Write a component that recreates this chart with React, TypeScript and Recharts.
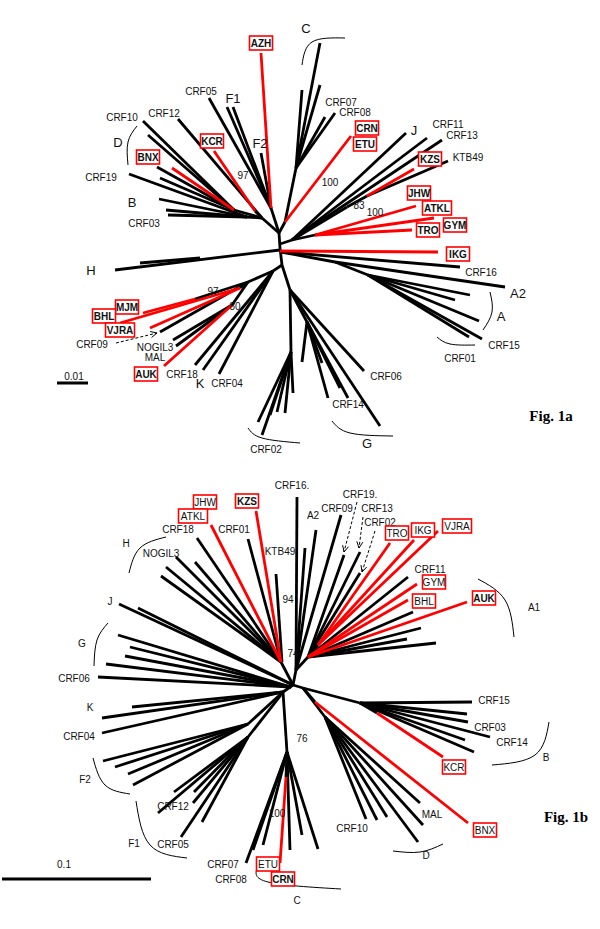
import { ScatterChart, Scatter, XAxis, YAxis } from 'recharts'

// Two unrooted trees drawn in one plane: branch = [x1, y1, x2, y2] in layout units
type Seg = [number, number, number, number]
type Pt = [number, number]
type Lbl = [string, number, number]

// ---------- Fig. 1a ----------
const black1a: Seg[] = [
  [279, 233, 280, 248], [280, 248, 282, 265], [279, 233, 262, 218], [279, 233, 271, 208],
  [279, 233, 285, 222], [285, 222, 296, 168], [280, 244, 292, 240], [280, 250, 115, 270],
  [140, 263, 200, 258], [281, 252, 460, 267], [281, 252, 335, 262],
  [335, 262, 505, 287], [335, 262, 368, 275], [368, 275, 470, 295], [368, 275, 455, 300],
  [368, 275, 479, 321], [368, 275, 469, 337], [368, 275, 482, 339],
  [282, 265, 273, 271], [273, 271, 248, 282], [248, 282, 195, 299], [248, 282, 240, 288],
  [248, 282, 160, 332], [248, 282, 232, 305], [232, 305, 173, 340], [232, 305, 176, 346],
  [273, 271, 195, 365], [273, 271, 203, 370], [273, 271, 219, 374],
  [282, 265, 290, 290], [290, 290, 364, 371], [290, 290, 380, 426], [290, 290, 307, 322],
  [307, 322, 302, 362], [307, 322, 322, 363], [307, 322, 328, 398], [307, 322, 340, 388],
  [307, 322, 348, 398], [290, 290, 291, 352], [291, 352, 258, 422], [291, 352, 262, 435],
  [291, 352, 270, 415], [291, 352, 277, 412], [291, 352, 285, 413], [291, 352, 293, 393],
  [262, 218, 234, 210], [234, 210, 143, 121], [234, 210, 148, 135], [234, 210, 157, 167],
  [234, 210, 160, 178], [262, 218, 178, 119], [262, 218, 255, 211], [262, 218, 247, 217],
  [247, 217, 129, 174], [247, 217, 159, 199], [247, 217, 166, 210], [247, 217, 168, 215],
  [271, 208, 209, 98], [271, 208, 227, 107], [271, 208, 233, 107], [271, 208, 261, 153],
  [296, 168, 320, 43], [296, 168, 320, 85], [296, 168, 302, 90], [296, 168, 325, 117],
  [296, 168, 335, 113],
  [292, 240, 406, 133], [292, 240, 427, 138], [292, 240, 442, 140], [292, 240, 347, 207],
  [347, 207, 367, 196], [367, 196, 448, 161], [292, 240, 315, 235],
]
const red1a: Seg[] = [
  [271, 208, 261, 53], [255, 211, 214, 151], [234, 210, 172, 168], [285, 222, 351, 136],
  [367, 196, 414, 169], [315, 235, 416, 206], [315, 235, 434, 218], [315, 235, 412, 230],
  [280, 251, 438, 252], [195, 299, 143, 313], [240, 288, 120, 323], [240, 288, 150, 328],
  [232, 305, 164, 366],
]
const arcs1a: Pt[][] = [
  [[302, 65], [312, 42], [345, 38]],
  [[137, 126], [128, 142], [128, 165]],
  [[490, 292], [492, 312], [483, 330]],
  [[437, 337], [450, 344], [475, 345]],
  [[332, 421], [350, 433], [393, 436]],
  [[248, 428], [262, 438], [300, 443]],
]
const arrows1a: Seg[] = [[116, 343, 157, 333]]
const scale1a: Seg = [57, 383, 88, 383]

const tips1a: Lbl[] = [
  ['CRF05', 201, 91], ['CRF12', 164, 113], ['CRF10', 122, 117], ['CRF19', 101, 177],
  ['CRF03', 144, 223], ['CRF07', 341, 102], ['CRF08', 355, 112], ['CRF11', 448, 124],
  ['CRF13', 462, 135], ['KTB49', 468, 157], ['CRF16', 481, 272], ['CRF15', 504, 345],
  ['CRF01', 460, 358], ['CRF06', 386, 376], ['CRF14', 348, 404], ['CRF02', 266, 449],
  ['CRF09', 92, 344], ['NOGIL3', 155, 347], ['MAL', 155, 357], ['CRF18', 182, 374],
  ['CRF04', 227, 383], ['0.01', 74, 376],
]
const clades1a: Lbl[] = [
  ['C', 306, 28], ['F1', 233, 98], ['F2', 260, 143], ['D', 118, 142], ['B', 132, 202],
  ['J', 414, 130], ['H', 91, 270], ['K', 200, 383], ['A2', 518, 293], ['A', 501, 316],
  ['G', 367, 443],
]
const boot1a: Lbl[] = [
  ['97', 243, 175], ['100', 330, 182], ['83', 359, 205], ['100', 375, 212],
  ['97', 213, 291], ['80', 235, 306],
]
const boxedBold1a: Lbl[] = [
  ['AZH', 261, 43], ['KCR', 212, 141], ['BNX', 148, 157], ['CRN', 367, 128],
  ['ETU', 365, 144], ['KZS', 430, 159], ['JHW', 419, 193], ['ATKL', 437, 208],
  ['GYM', 455, 225], ['TRO', 428, 230], ['IKG', 458, 254], ['MJM', 127, 307],
  ['BHL', 104, 316], ['VJRA', 120, 330], ['AUK', 146, 374],
]

// ---------- Fig. 1b ----------
const black1b: Seg[] = [
  [293, 685, 296, 670], [296, 670, 297, 497], [296, 670, 316, 530], [296, 670, 305, 548],
  [296, 670, 341, 515], [296, 670, 308, 657],
  [308, 657, 344, 555], [308, 657, 360, 552], [308, 657, 360, 573], [308, 657, 408, 577],
  [308, 657, 413, 612], [308, 657, 421, 628], [308, 657, 407, 639], [308, 657, 436, 643],
  [308, 657, 318, 645],
  [293, 685, 281, 662], [281, 662, 197, 538], [281, 662, 248, 539], [282, 662, 276, 574],
  [281, 662, 176, 557], [281, 662, 195, 562], [281, 662, 166, 567], [281, 662, 161, 576],
  [293, 685, 119, 604], [293, 685, 138, 608],
  [291, 687, 118, 635], [291, 687, 130, 647], [291, 687, 125, 656], [291, 687, 106, 664],
  [291, 687, 98, 677],
  [293, 685, 283, 692], [283, 692, 132, 707], [283, 692, 102, 718], [283, 692, 102, 733],
  [283, 692, 248, 724], [248, 724, 103, 761], [248, 724, 115, 767], [248, 724, 128, 774],
  [248, 724, 133, 785],
  [281, 695, 248, 737], [248, 737, 174, 792], [248, 737, 194, 792], [248, 737, 193, 803],
  [248, 737, 158, 813], [248, 737, 202, 822], [248, 737, 181, 837],
  [283, 692, 287, 752], [287, 752, 246, 863], [287, 752, 253, 850], [287, 752, 263, 845],
  [287, 752, 290, 850], [287, 752, 302, 835], [287, 752, 318, 849], [287, 752, 286, 777],
  [293, 685, 303, 688], [303, 688, 360, 703], [360, 703, 472, 702], [360, 703, 467, 714],
  [360, 703, 468, 722], [360, 703, 490, 737], [360, 703, 465, 740], [360, 703, 474, 752],
  [360, 703, 377, 713], [303, 688, 315, 702], [303, 688, 325, 717],
  [325, 717, 420, 803], [325, 717, 423, 825], [325, 717, 418, 842], [325, 717, 387, 817],
  [325, 717, 377, 820], [325, 717, 366, 819],
]
const red1b: Seg[] = [
  [281, 662, 211, 525], [281, 662, 256, 511],
  [318, 645, 390, 543], [318, 645, 414, 540], [318, 645, 438, 531], [308, 657, 417, 584],
  [308, 657, 408, 600], [308, 657, 467, 602],
  [286, 777, 280, 863], [377, 713, 443, 757], [315, 702, 468, 823],
]
const arcs1b: Pt[][] = [
  [[166, 537], [140, 548], [129, 573]],
  [[108, 623], [97, 640], [94, 666]],
  [[478, 579], [505, 600], [514, 637]],
  [[549, 722], [535, 755], [492, 765]],
  [[393, 851], [420, 852], [443, 844]],
  [[93, 758], [105, 785], [130, 794]],
  [[136, 801], [150, 845], [187, 858]],
  [[257, 868], [268, 882], [341, 889]],
]
const arrows1b: Seg[] = [[357, 502, 344, 552], [363, 517, 359, 548], [375, 531, 362, 572]]
const scale1b: Seg = [2, 879, 151, 879]

const tips1b: Lbl[] = [
  ['CRF16.', 292, 485], ['CRF19.', 360, 494], ['CRF09', 337, 508], ['CRF13', 377, 508],
  ['CRF02', 380, 522], ['CRF18', 178, 529], ['CRF01', 234, 529], ['KTB49', 280, 551],
  ['NOGIL3', 161, 553], ['CRF06', 74, 678], ['CRF11', 430, 569], ['CRF04', 79, 736],
  ['CRF12', 173, 806], ['CRF05', 173, 844], ['CRF07', 223, 864], ['CRF08', 231, 879],
  ['CRF15', 494, 700], ['CRF03', 490, 727], ['CRF14', 512, 742], ['MAL', 432, 814],
  ['CRF10', 352, 828], ['0.1', 64, 864],
  ['H', 126, 543], ['J', 110, 601], ['G', 82, 643], ['K', 90, 707], ['F2', 85, 779],
  ['F1', 134, 843], ['A2', 313, 515], ['A1', 534, 607], ['B', 546, 757], ['D', 426, 855],
  ['C', 297, 900],
]
const boot1b: Lbl[] = [['94', 288, 599], ['74', 293, 653], ['76', 302, 738], ['100', 277, 813]]
const boxed1b: Lbl[] = [
  ['JHW', 205, 502], ['ATKL', 193, 516], ['TRO', 397, 533], ['IKG', 423, 530],
  ['VJRA', 457, 526], ['GYM', 434, 582], ['BHL', 424, 601], ['KCR', 454, 767],
  ['BNX', 485, 830], ['ETU', 268, 864],
]
const boxedBold1b: Lbl[] = [['KZS', 247, 501], ['AUK', 484, 598], ['CRN', 283, 879]]

const figTitles: Lbl[] = [['Fig. 1a', 551, 416], ['Fig. 1b', 566, 817]]

const SANS = '"Liberation Sans", Arial, sans-serif'
const RED = '#f00'
const noDot = () => <g />

function seg(s: Seg, key: string, stroke: string, w: number, dash?: string) {
  return (
    <Scatter
      key={key}
      data={[{ x: s[0], y: s[1] }, { x: s[2], y: s[3] }]}
      line={{ stroke, strokeWidth: w, strokeDasharray: dash }}
      shape={noDot}
      isAnimationActive={false}
    />
  )
}

function arc(p: Pt[], key: string) {
  return (
    <Scatter
      key={key}
      data={p.map(([x, y]) => ({ x, y }))}
      line={{ stroke: '#000', strokeWidth: 1 }}
      lineJointType="natural"
      shape={noDot}
      isAnimationActive={false}
    />
  )
}

function arrow(s: Seg, key: string) {
  const ang = Math.atan2(s[3] - s[1], s[2] - s[0])
  const head = (p: any) => {
    if (!p.payload.tip) return <g />
    const a1 = ang + Math.PI - 0.45
    const a2 = ang + Math.PI + 0.45
    const L = 7
    return (
      <path
        d={`M${p.cx + L * Math.cos(a1)},${p.cy + L * Math.sin(a1)}L${p.cx},${p.cy}L${p.cx + L * Math.cos(a2)},${p.cy + L * Math.sin(a2)}`}
        stroke="#000" strokeWidth={1} fill="none"
      />
    )
  }
  return (
    <Scatter
      key={key}
      data={[{ x: s[0], y: s[1] }, { x: s[2], y: s[3], tip: true }]}
      line={{ stroke: '#000', strokeWidth: 1, strokeDasharray: '3 2' }}
      shape={head}
      isAnimationActive={false}
    />
  )
}

type Kind = 'tip' | 'clade' | 'boot' | 'box' | 'boxb' | 'fig'

function labelShape(p: any) {
  const { cx, cy, payload } = p
  const k: Kind = payload.k
  const t: string = payload.t
  if (k === 'fig') {
    return (
      <text x={cx} y={cy} textAnchor="middle" dominantBaseline="central"
        fontFamily='"Liberation Serif", "Times New Roman", serif' fontWeight="bold" fontSize={15}>{t}</text>
    )
  }
  const size = k === 'clade' ? 13 : 10
  const bold = k === 'boxb'
  const boxed = k === 'box' || k === 'boxb'
  const w = t.length * 6 + 5
  return (
    <g>
      {boxed && (
        <rect x={cx - w / 2} y={cy - 7} width={w} height={14} fill="#fff" stroke={RED} strokeWidth={1.6} />
      )}
      <text x={cx} y={cy + 0.5} textAnchor="middle" dominantBaseline="central" fontFamily={SANS}
        fontSize={size} fontWeight={bold ? 'bold' : 'normal'} fill="#111">{t}</text>
    </g>
  )
}

function toPts(list: Lbl[], k: Kind) {
  return list.map(([t, x, y]) => ({ x, y, t, k }))
}

export default function App() {
  const labels = [
    ...toPts(tips1a, 'tip'), ...toPts(clades1a, 'clade'), ...toPts(boot1a, 'boot'),
    ...toPts(boxedBold1a, 'boxb'), ...toPts(tips1b, 'tip'), ...toPts(boot1b, 'boot'),
    ...toPts(boxed1b, 'box'), ...toPts(boxedBold1b, 'boxb'), ...toPts(figTitles, 'fig'),
  ]
  return (
    <div style={{ position: 'absolute', left: 0, top: 0, background: '#fff' }}>
      <ScatterChart width={600} height={929} margin={{ top: 0, right: 0, bottom: 0, left: 0 }}>
        <XAxis type="number" dataKey="x" domain={[0, 600]} hide allowDataOverflow />
        <YAxis type="number" dataKey="y" domain={[0, 929]} reversed hide allowDataOverflow />
        {black1a.map((s, i) => seg(s, 'ka' + i, '#000', 2.8))}
        {red1a.map((s, i) => seg(s, 'ra' + i, RED, 2.8))}
        {black1b.map((s, i) => seg(s, 'kb' + i, '#000', 2.8))}
        {red1b.map((s, i) => seg(s, 'rb' + i, RED, 2.8))}
        {arcs1a.map((p, i) => arc(p, 'aa' + i))}
        {arcs1b.map((p, i) => arc(p, 'ab' + i))}
        {arrows1a.map((s, i) => arrow(s, 'wa' + i))}
        {arrows1b.map((s, i) => arrow(s, 'wb' + i))}
        {seg(scale1a, 'sa', '#000', 3)}
        {seg(scale1b, 'sb', '#000', 3)}
        <Scatter data={labels} shape={labelShape} isAnimationActive={false} />
      </ScatterChart>
    </div>
  )
}
